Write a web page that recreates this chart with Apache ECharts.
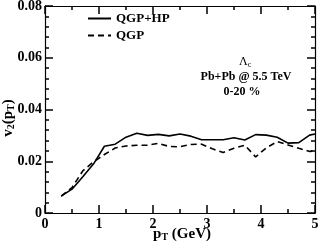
<!DOCTYPE html>
<html><head><meta charset="utf-8">
<script src="https://cdn.jsdelivr.net/npm/echarts@6/dist/echarts.min.js"></script>
<style>html,body{margin:0;padding:0;background:#fff}#c{width:319px;height:246px}</style>
</head><body><div id="c"></div>
<script>
const pT = [0.3,0.5,0.7,0.9,1.1,1.3,1.5,1.7,1.9,2.1,2.3,2.5,2.7,2.9,3.1,3.3,3.5,3.7,3.9,4.1,4.3,4.5,4.7,4.9,5.0];
const v2QGPHP = [0.0065,0.0092,0.0140,0.0190,0.0258,0.0266,0.0293,0.0308,0.0300,0.0304,0.0298,0.0305,0.0297,0.0283,0.0283,0.0283,0.0291,0.0282,0.0303,0.0301,0.0293,0.0270,0.0272,0.0301,0.0305];
const v2QGP = [0.0065,0.0098,0.0163,0.0198,0.0226,0.0251,0.0259,0.0262,0.0262,0.0269,0.0257,0.0256,0.0265,0.0266,0.0248,0.0234,0.0250,0.0262,0.0217,0.0252,0.0276,0.0263,0.0250,0.0238,0.0240];
const seriesNames = ['QGP+HP','QGP'];
const xTicks = [0,1,2,3,4,5];
const yTicks = [0,0.02,0.04,0.06,0.08];
const annotation = ['Pb+Pb @ 5.5 TeV','0-20 %'];

const FONT = 'Liberation Serif';
const chart = echarts.init(document.getElementById('c'));
const hiddenLabel = {color: 'rgba(0,0,0,0)', fontSize: 6};
const shownLabel = (m) => ({fontFamily: FONT, fontWeight: 'bold', fontSize: 14, color: '#000', margin: m});
function ax(extra, len, showLine) {
  return Object.assign({
    type: 'value', min: 0,
    axisLine: {show: showLine, onZero: false, lineStyle: {color: '#000', width: 1.2}},
    axisTick: {show: true, inside: true, length: len, lineStyle: {color: '#000', width: 1.5}},
    axisLabel: hiddenLabel,
    splitLine: {show: false}
  }, extra);
}
const richP = {fontFamily: FONT, fontWeight: 'bold', fontSize: 15, fill: '#000'};
const richS = {fontFamily: FONT, fontWeight: 'bold', fontSize: 10, fill: '#000', padding: [7,0,0,0]};
chart.setOption({
  animation: false,
  grid: {left: 45, right: 4, top: 6, bottom: 33, outerBoundsMode: 'none'},
  legend: {
    orient: 'vertical', left: 87, top: 12, padding: 0, itemWidth: 23, itemHeight: 10, itemGap: 4,
    data: seriesNames,
    itemStyle: {opacity: 0},
    textStyle: {fontFamily: FONT, fontWeight: 'bold', fontSize: 13, color: '#000'}
  },
  xAxis: [
    ax({min: xTicks[0], max: xTicks[xTicks.length - 1], interval: 1, position: 'bottom', axisLabel: shownLabel(4)}, 8, true),
    ax({min: xTicks[0], max: xTicks[xTicks.length - 1], interval: 1, position: 'top'}, 8, true),
    ax({min: xTicks[0], max: xTicks[xTicks.length - 1], interval: 0.5, position: 'bottom'}, 4, false),
    ax({min: xTicks[0], max: xTicks[xTicks.length - 1], interval: 0.5, position: 'top'}, 4, false)
  ],
  yAxis: [
    ax({min: yTicks[0], max: yTicks[yTicks.length - 1], interval: 0.02, position: 'left', axisLabel: shownLabel(3)}, 8, true),
    ax({min: yTicks[0], max: yTicks[yTicks.length - 1], interval: 0.02, position: 'right'}, 8, true),
    ax({min: yTicks[0], max: yTicks[yTicks.length - 1], interval: 0.004, position: 'left'}, 4, false),
    ax({min: yTicks[0], max: yTicks[yTicks.length - 1], interval: 0.004, position: 'right'}, 4, false)
  ],
  graphic: [
    {type: 'text', x: 182, y: 234, style: {text: '{p|p}{s|T}{p| (GeV)}', align: 'center', verticalAlign: 'middle',
      rich: {p: richP, s: richS}}},
    {type: 'text', x: 8, y: 118, rotation: Math.PI / 2, style: {text: '{p|v}{s|2}{p|(p}{s|T}{p|)}', align: 'center', verticalAlign: 'middle',
      rich: {p: richP, s: richS}}},
    {type: 'text', left: 239, top: 56, style: {text: '{a|Λ}{b|c}', rich: {
      a: {fontFamily: FONT, fontSize: 12, fill: '#000'},
      b: {fontFamily: FONT, fontSize: 8, fill: '#000', padding: [6,0,0,0]}}}},
    {type: 'text', x: 246, y: 71, style: {text: annotation[0], align: 'center', fontFamily: FONT, fontWeight: 'bold', fontSize: 12, fill: '#000'}},
    {type: 'text', x: 242, y: 86, style: {text: annotation[1], align: 'center', fontFamily: FONT, fontWeight: 'bold', fontSize: 12, fill: '#000'}}
  ],
  series: [
    {name: seriesNames[0], type: 'line', symbol: 'none', data: pT.map((x,i) => [x, v2QGPHP[i]]),
      lineStyle: {color: '#000', width: 1.6, type: 'solid'}, itemStyle: {color: '#000'}},
    {name: seriesNames[1], type: 'line', symbol: 'none', xAxisIndex: 1, yAxisIndex: 1,
      data: pT.map((x,i) => [x, v2QGP[i]]),
      lineStyle: {color: '#000', width: 1.6, type: [6,4]}, itemStyle: {color: '#000'}}
  ]
});
</script></body></html>
